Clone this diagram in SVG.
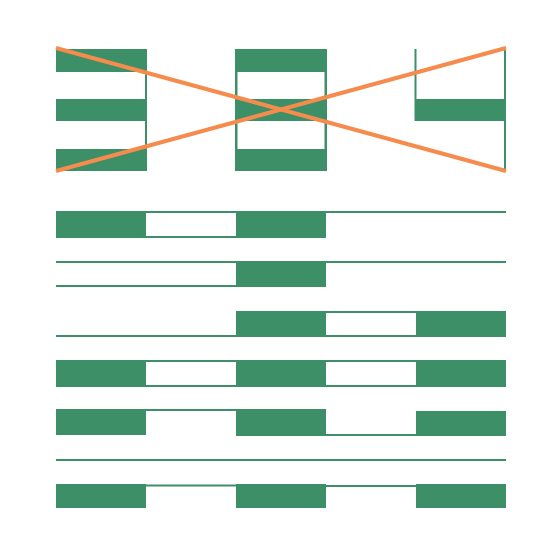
<svg xmlns="http://www.w3.org/2000/svg" width="560" height="560" viewBox="0 0 560 560">
<style>
.g{fill:#3d8f67}
.x{stroke:#f58b4c;stroke-width:4;stroke-linecap:butt;fill:none}
</style>
<rect width="560" height="560" fill="#ffffff"/>
<g id="glyph1" class="g">
<rect x="56" y="49" width="90" height="23"/>
<rect x="56" y="99" width="90" height="22"/>
<rect x="56" y="149" width="90" height="22"/>
<rect x="145" y="49" width="2" height="122"/>
</g>
<g id="glyph2" class="g">
<rect x="235" y="49" width="92" height="23"/>
<rect x="235" y="99" width="92" height="22"/>
<rect x="235" y="149" width="92" height="22"/>
<rect x="235" y="49" width="2.5" height="122"/>
<rect x="324.5" y="49" width="2.5" height="122"/>
</g>
<g id="glyph3" class="g">
<rect x="414.5" y="49" width="2" height="72"/>
<rect x="415" y="99" width="91" height="22"/>
<rect x="504" y="49" width="2" height="122"/>
</g>
<g id="cross">
<line class="x" x1="56" y1="48" x2="506" y2="171"/>
<line class="x" x1="56" y1="171" x2="506" y2="48"/>
</g>
<g id="row1" class="g">
<rect x="56" y="211" width="90" height="27"/>
<rect x="146" y="211" width="90" height="2"/>
<rect x="146" y="236" width="90" height="2"/>
<rect x="236" y="211" width="90" height="27"/>
<rect x="326" y="211" width="180" height="2"/>
</g>
<g id="row2" class="g">
<rect x="56" y="261" width="180" height="2"/>
<rect x="56" y="285" width="180" height="2"/>
<rect x="236" y="261" width="90" height="26"/>
<rect x="326" y="261" width="180" height="2"/>
</g>
<g id="row3" class="g">
<rect x="56" y="335" width="180" height="2"/>
<rect x="236" y="311" width="90" height="26"/>
<rect x="326" y="311" width="90" height="2"/>
<rect x="326" y="335" width="90" height="2"/>
<rect x="416" y="311" width="90" height="26"/>
</g>
<g id="row4" class="g">
<rect x="56" y="360" width="90" height="27"/>
<rect x="146" y="360" width="90" height="2"/>
<rect x="146" y="385" width="90" height="2"/>
<rect x="236" y="360" width="90" height="27"/>
<rect x="326" y="360" width="90" height="2"/>
<rect x="326" y="385" width="90" height="2"/>
<rect x="416" y="360" width="90" height="27"/>
</g>
<g id="row5" class="g">
<rect x="56" y="409" width="90" height="26"/>
<rect x="146" y="409" width="90" height="2"/>
<rect x="236" y="409" width="90" height="27"/>
<rect x="326" y="434" width="90" height="2"/>
<rect x="416" y="411" width="90" height="25"/>
</g>
<g id="row6" class="g">
<rect x="56" y="459" width="450" height="2"/>
</g>
<g id="row7" class="g">
<rect x="56" y="484" width="90" height="24"/>
<rect x="146" y="484.5" width="90" height="2"/>
<rect x="236" y="484" width="90" height="24"/>
<rect x="326" y="485" width="90" height="2"/>
<rect x="416" y="484" width="90" height="24"/>
</g>
</svg>
